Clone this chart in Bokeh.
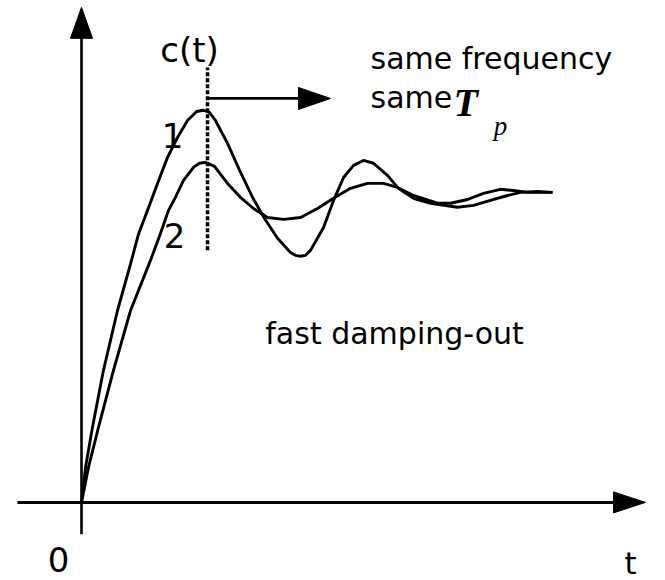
from bokeh.plotting import figure
from bokeh.models import Range1d
from bokeh.core.properties import value
from bokeh.embed import file_html
from bokeh.resources import INLINE

# Step responses c(t) of two underdamped systems with the same damped
# frequency (same peak time Tp). Time is in units of Tp, c in units of c(inf).
t1 = [0.0, 0.033, 0.090, 0.180, 0.295, 0.410, 0.467, 0.541, 0.623, 0.705,
      0.787, 0.869, 0.943, 1.0, 1.049, 1.098, 1.197, 1.303, 1.402, 1.500,
      1.607, 1.713, 1.754, 1.795, 1.836, 1.877, 1.984, 2.066, 2.148, 2.230,
      2.311, 2.393, 2.508, 2.598, 2.721, 2.861, 3.082, 3.213, 3.352, 3.492,
      3.598, 3.738, 3.861]
c1 = [0.0, 0.113, 0.242, 0.426, 0.619, 0.781, 0.865, 0.942, 1.029, 1.113,
      1.177, 1.232, 1.261, 1.265, 1.258, 1.232, 1.158, 1.065, 0.984, 0.916,
      0.852, 0.806, 0.797, 0.794, 0.797, 0.813, 0.887, 0.974, 1.048, 1.087,
      1.103, 1.094, 1.055, 1.013, 0.981, 0.965, 0.952, 0.958, 0.974, 0.990,
      1.0, 1.003, 1.0]

t2 = [0.0, 0.057, 0.139, 0.262, 0.402, 0.566, 0.648, 0.713, 0.770, 0.836,
      0.918, 0.967, 1.016, 1.090, 1.197, 1.303, 1.410, 1.525, 1.656, 1.795,
      1.934, 2.066, 2.205, 2.344, 2.475, 2.590, 2.721, 2.918, 3.025, 3.164,
      3.295, 3.434, 3.541, 3.656, 3.861]
c2 = [0.0, 0.113, 0.242, 0.426, 0.619, 0.781, 0.868, 0.942, 0.984, 1.039,
      1.081, 1.094, 1.097, 1.084, 1.029, 0.984, 0.948, 0.919, 0.913, 0.919,
      0.948, 0.981, 1.013, 1.029, 1.029, 1.016, 0.990, 0.965, 0.965, 0.977,
      0.997, 1.010, 1.006, 1.0, 1.0]

# axis extents (data units)
t_axis = [-0.525, 4.623]
c_axis = [-0.103, 1.597]

# peak-time marker and the arrow pointing to the note
t_peak = 1.033
c_marker = [0.813, 1.403]
note_arrow_t = [1.033, 2.041]
note_arrow_c = 1.303

W, H = 665, 580
X0, X1 = -0.664, 4.787
Y0, Y1 = -0.252, 1.619
SX = (X1 - X0) / W   # data units per pixel, horizontal
SY = (Y1 - Y0) / H   # data units per pixel, vertical

p = figure(width=W, height=H, x_range=Range1d(X0, X1), y_range=Range1d(Y0, Y1),
           x_axis_location=None, y_axis_location=None, toolbar_location=None,
           output_backend="svg", min_border=0, outline_line_color=None,
           background_fill_color="white", border_fill_color="white")
p.grid.visible = False


def head_right(tx, ty, length_px, half_px):
    bx = tx - length_px * SX
    return [tx, bx, bx], [ty, ty + half_px * SY, ty - half_px * SY]


def head_up(tx, ty, length_px, half_px):
    by = ty - length_px * SY
    return [tx, tx - half_px * SX, tx + half_px * SX], [ty, by, by]


# coordinate axes
p.segment(x0=[t_axis[0]], y0=[0], x1=[t_axis[1] - 20 * SX], y1=[0],
          line_color="black", line_width=3)
p.segment(x0=[0], y0=[c_axis[0]], x1=[0], y1=[c_axis[1] - 20 * SY],
          line_color="black", line_width=2.6)

# response curves
p.line(t1, c1, line_color="black", line_width=2.9, line_join="round")
p.line(t2, c2, line_color="black", line_width=2.9, line_join="round")

# dashed marker at the peak time
p.segment(x0=[t_peak], y0=[c_marker[0]], x1=[t_peak], y1=[c_marker[1]],
          line_color="black", line_width=3.5, line_dash="4 2")

# arrow to the note
p.segment(x0=[note_arrow_t[0]], y0=[note_arrow_c],
          x1=[note_arrow_t[1] - 20 * SX], y1=[note_arrow_c],
          line_color="black", line_width=2.8)

hx, hy = [], []
for xs, ys in (head_right(t_axis[1], 0, 32, 10.5),
               head_up(0, c_axis[1], 31, 11),
               head_right(note_arrow_t[1], note_arrow_c, 32, 11)):
    hx.append(xs)
    hy.append(ys)
p.patches(hx, hy, fill_color="black", line_color="black", line_width=1)

# labels
sans = value("DejaVu Sans")
p.text(x=[0.885, 0.746, 0.762, -0.189],
       y=[1.458, 1.184, 0.861, -0.184],
       text=["c(t)", "1", "2", "0"],
       text_font=sans, text_font_size="34px", text_color="black",
       text_align="center", text_baseline="alphabetic")
p.text(x=[4.5], y=[-0.195], text=["t"],
       text_font=sans, text_font_size="31px", text_color="black",
       text_align="center", text_baseline="alphabetic")

p.text(x=[2.369, 2.369], y=[1.432, 1.306], text=["same frequency", "same"],
       text_font=sans, text_font_size="30px", text_color="black",
       text_align="left", text_baseline="alphabetic")

p.text(x=[3.05], y=[1.290], text=["T"],
       text_font=value("Liberation Serif"), text_font_size="40px",
       text_font_style="bold italic", text_color="black",
       text_align="left", text_baseline="alphabetic")
p.text(x=[3.38], y=[1.214], text=["p"],
       text_font=value("Liberation Serif"), text_font_size="27px",
       text_font_style="italic", text_color="black",
       text_align="left", text_baseline="alphabetic")

p.text(x=[2.566], y=[0.545], text=["fast damping-out"],
       text_font=sans, text_font_size="30px", text_color="black",
       text_align="center", text_baseline="alphabetic")

open("out.html", "w").write(file_html(p, INLINE))
